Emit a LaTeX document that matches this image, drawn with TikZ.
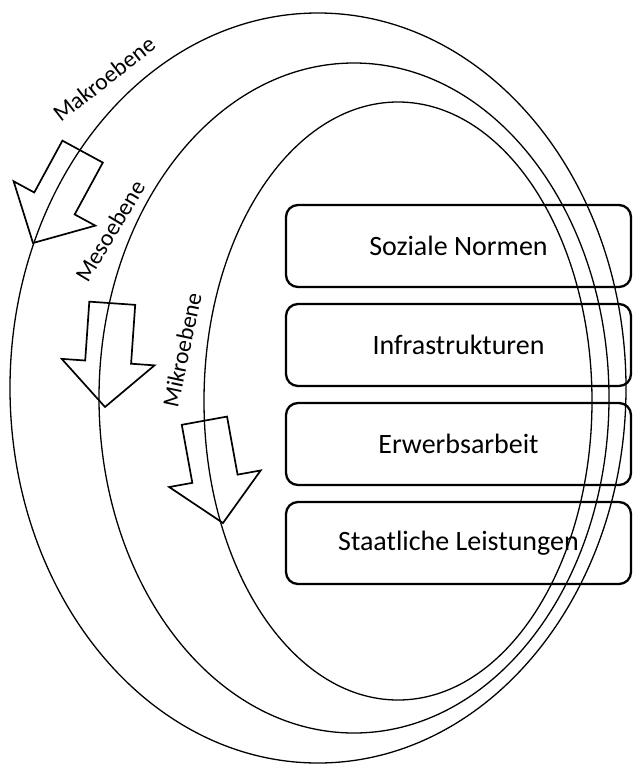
\documentclass[tikz,border=0pt]{standalone}
\usepackage{fontspec}
\setmainfont{Carlito}
\tikzset{
  ring/.style={line width=1.3pt},
  kasten/.style={draw,rounded corners=12pt,line width=2.3pt,inner sep=0pt,
    minimum width=345pt,minimum height=82pt,font=\fontsize{28}{33}\selectfont},
  ebene/.style={inner sep=0pt,font=\fontsize{23.5}{28}\selectfont},
  pfeil/.style={draw,line width=1.7pt,line join=miter}
}

\begin{document}
\begin{tikzpicture}[x=1pt,y=1pt]
\useasboundingbox (0,0) rectangle (633,-764);
\pgfmathsetmacro{\schaft}{23}   % halbe Schaftbreite
\pgfmathsetmacro{\spitze}{46.5} % halbe Spitzenbreite

% drei Ebenen
\draw[ring] (318,-388) ellipse [x radius=308pt,y radius=375pt]; % Makro
\draw[ring] (354,-398) ellipse [x radius=255pt,y radius=335pt]; % Meso
\draw[ring] (398,-401) ellipse [x radius=194pt,y radius=299pt]; % Mikro

\node[ebene,rotate=38] (makro) at (104,-79) {Makroebene};
\node[ebene,rotate=59] (meso) at (110,-231) {Mesoebene};
\node[ebene,rotate=78] (mikro) at (182,-350) {Mikroebene};

% Blockpfeile, Spitze auf der Ellipse
\foreach \px/\py/\w in {33/243/-28.5,105/407/-4,223/523/10.3}
  \draw[pfeil,shift={(\px,-\py)},rotate=\w] (0,0) -- (\spitze,45) --
        (\schaft,45) -- (\schaft,104) -- (-\schaft,104) -- (-\schaft,45) --
        (-\spitze,45) -- cycle;

% Bereiche
\foreach \t [count=\i] in {Soziale Normen,Infrastrukturen,Erwerbsarbeit,
                           Staatliche Leistungen}
  \node[kasten] (k\i) at (458.5,{-246-99*(\i-1)}) {\t};
\end{tikzpicture}
\end{document}
